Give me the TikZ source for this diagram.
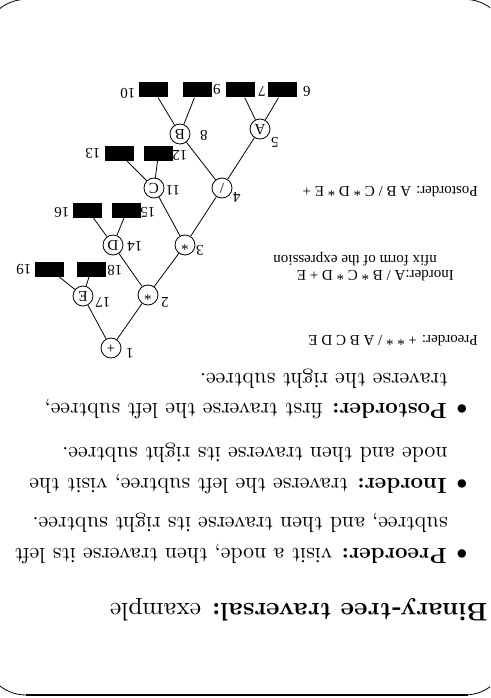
\documentclass[tikz,border=0pt]{standalone}
\usepackage{fontspec}
\usepackage{tikz}
\newfontfamily\figfont{Liberation Serif}
\tikzset{
  slidetext/.style={anchor=base west,inner sep=0pt,scale=2.18},
  figtext/.style={font=\figfont\fontsize{15}{17}\selectfont,inner sep=0pt},
  opnode/.style={figtext,draw,circle,minimum size=20pt,line width=0.8pt},
  nilbox/.style={fill=black,minimum width=29pt,minimum height=15pt,inner sep=0pt},
  treeline/.style={line width=0.8pt}
}
\begin{document}
\begin{tikzpicture}[x=1pt,y=1pt,rotate=180,transform shape,line join=round]
\useasboundingbox (0,0) rectangle (490,698);
\clip (0,0) rectangle (490,698);

% ---- slide frame ----
\draw[line width=0.8pt,rounded corners=42pt] (-17,-0.6) rectangle (506,695);
\draw[line width=2.6pt] (22,695) -- (464,695);

% ---- title and the three traversals ----
\node[anchor=base west,inner sep=0pt,scale=2.54] (title) at (2,603)
  {\textbf{Binary-tree traversal:} example};
\foreach \i/\v in {1/548,2/478,3/403}
  \node[slidetext,anchor=base] (dot\i) at (28,\v) {$\bullet$};
\node[slidetext] (pre1) at (43,548) {\textbf{Preorder:} visit a node, then traverse its left};
\node[slidetext] (pre2) at (42,517) {subtree, and then traverse its right subtree.};
\node[slidetext] (in1) at (43,478) {\textbf{Inorder:} traverse the left subtree, visit the};
\node[slidetext] (in2) at (42,447) {node and then traverse its right subtree.};
\node[slidetext] (post1) at (43,403) {\textbf{Postorder:} first traverse the left subtree,};
\node[slidetext] (post2) at (42,373) {traverse the right subtree.};

% ---- the three orders, as the figure prints them ----
\node[figtext,anchor=base west] (preseq) at (12,335) {Preorder: + * * / A B C D E};
\node[figtext,anchor=base west] (inseq) at (36,270) {Inorder:A / B * C * D + E};
\node[figtext,anchor=base west] (innote) at (53,255) {nfix form of the expression};
\node[figtext,anchor=base west] (postseq) at (12,186) {Postorder: A B / C * D * E +};

% ---- expression tree ----
\foreach \n/\x/\y/\t in {1/379/348/+, 2/342/295/*, 17/407/296/E,
    3/305/245/*, 14/377/245/D, 4/268/188/{/}, 11/336/188/C,
    5/230/129/A, 8/310/134/B}
  \node[opnode] (n\n) at (\x,\y) {\t};
\foreach \n/\x/\y in {6/207/90, 7/249/90, 9/292.5/90, 10/336.5/90,
    12/331.5/153.5, 13/370.5/153.5, 15/363/210.5, 16/402/210.5,
    18/398.5/269, 19/440.5/269}
  \node[nilbox] (n\n) at (\x,\y) {};
\foreach \a/\b in {1/2, 1/17, 2/3, 2/14, 3/4, 3/11, 4/5, 4/8,
    5/6, 5/7, 8/9, 8/10, 11/12, 11/13, 14/15, 14/16, 17/18, 17/19}
  \draw[treeline] (n\a) -- (n\b);

% ---- visit numbers ----
\foreach \n/\x/\y in {1/360/353, 2/325/302, 3/290/250, 4/253/197,
    5/215/142, 6/183/91, 7/228/91, 8/286/135, 9/273/89, 10/362/93,
    11/317/190, 12/310/155, 13/397/153, 14/355/246, 15/342/212,
    16/428/212, 17/387/302, 18/375/270, 19/466/269}
  \node[figtext] (num\n) at (\x,\y) {\n};
\end{tikzpicture}
\end{document}
